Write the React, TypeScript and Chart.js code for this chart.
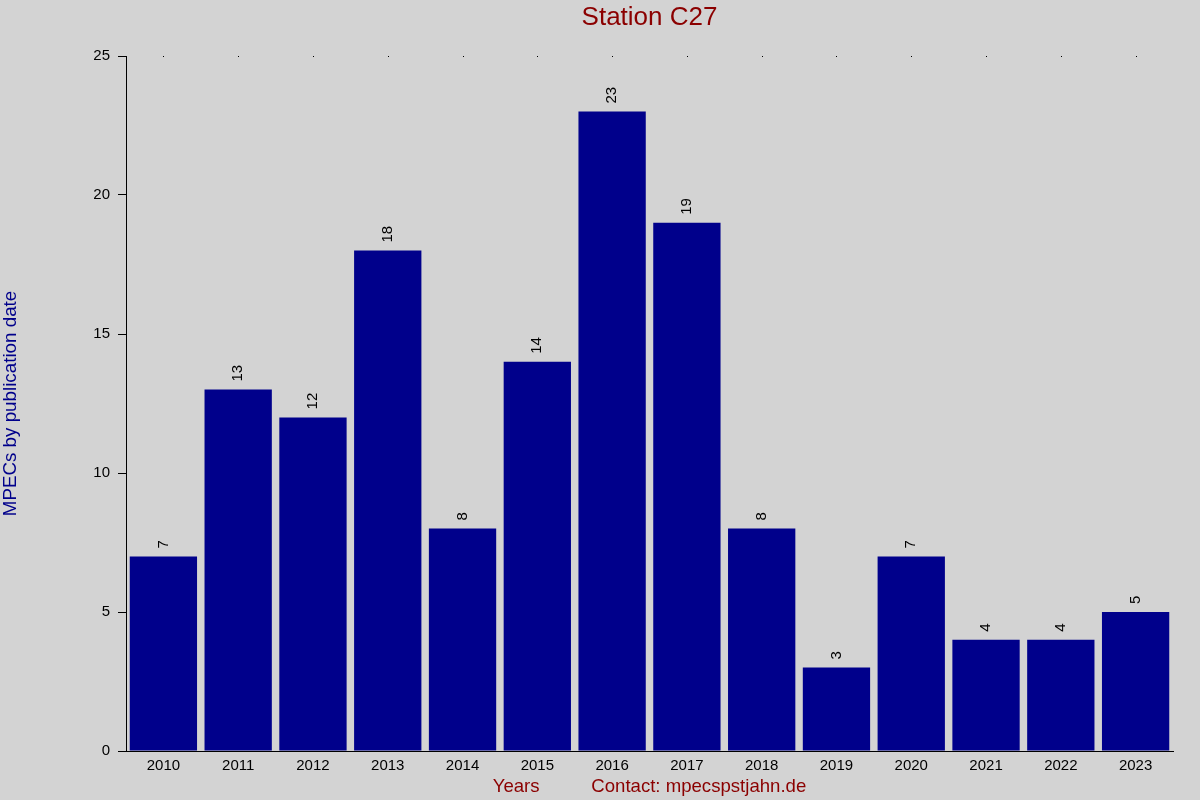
import { useEffect, useRef } from "react"
import { Chart, registerables } from "chart.js"

Chart.register(...registerables)

const years = ["2010", "2011", "2012", "2013", "2014", "2015", "2016", "2017", "2018", "2019", "2020", "2021", "2022", "2023"]
const mpecs = [7, 13, 12, 18, 8, 14, 23, 19, 8, 3, 7, 4, 4, 5]
const yTicks = [0, 5, 10, 15, 20, 25]

const FONT = "'Liberation Sans', Arial, sans-serif"
const BG = "#d3d3d3"
const BAR = "#00008b"
const RED = "#8b0000"

// fond gris, titre, points en haut, valeurs au-dessus des barres
const decorations = {
  id: "decorations",
  beforeDraw(chart: any) {
    const { ctx, width, height } = chart
    ctx.save()
    ctx.fillStyle = BG
    ctx.fillRect(0, 0, width, height)
    ctx.restore()
  },
  afterDraw(chart: any) {
    const { ctx, chartArea } = chart
    const xScale = chart.scales.x
    ctx.save()
    // titre
    ctx.fillStyle = RED
    ctx.font = `26px ${FONT}`
    ctx.textAlign = "center"
    ctx.textBaseline = "middle"
    ctx.fillText("Station C27", (chartArea.left + chartArea.right) / 2, 18)
    // petits points en haut
    ctx.fillStyle = "#000"
    xScale.ticks.forEach((_t: any, i: number) => {
      const x = Math.round(xScale.getPixelForTick(i))
      ctx.fillRect(x, Math.round(chartArea.top), 1, 1)
    })
    // valeurs
    const meta = chart.getDatasetMeta(0)
    ctx.font = `15px ${FONT}`
    ctx.textAlign = "left"
    ctx.textBaseline = "middle"
    meta.data.forEach((bar: any, i: number) => {
      ctx.save()
      ctx.translate(bar.x, bar.y - 8)
      ctx.rotate(-Math.PI / 2)
      ctx.fillText(String(mpecs[i]), 0, 0)
      ctx.restore()
    })
    ctx.restore()
  },
}

export default function App() {
  const chartRef = useRef<HTMLCanvasElement>(null)
  const chartInstance = useRef<Chart | null>(null)

  useEffect(() => {
    if (!chartRef.current) return
    if (chartInstance.current) chartInstance.current.destroy()
    const ctx = chartRef.current.getContext("2d")
    if (!ctx) return

    chartInstance.current = new Chart(ctx, {
      type: "bar",
      data: {
        labels: years,
        datasets: [
          {
            data: mpecs,
            backgroundColor: BAR,
            borderWidth: 0,
            barPercentage: 0.9,
            categoryPercentage: 1.0,
          },
        ],
      },
      options: {
        responsive: false,
        animation: false,
        devicePixelRatio: 1,
        layout: { padding: { top: 56, right: 27, left: 0, bottom: 0 } },
        scales: {
          x: {
            afterFit: (scale: any) => {
              scale.height = 49
            },
            grid: { display: false, drawTicks: false, tickLength: 0 },
            border: { display: true, color: "#000", width: 1 },
            ticks: {
              color: "#000",
              font: { family: FONT, size: 15 },
              padding: 6,
              maxRotation: 0,
              autoSkip: false,
            },
            title: {
              display: true,
              text: "Years          Contact: mpecspstjahn.de",
              color: RED,
              font: { family: FONT, size: 18.6 },
              padding: { top: 0, bottom: 2 },
            },
          },
          y: {
            min: 0,
            max: 25,
            afterFit: (scale: any) => {
              scale.width = 126
            },
            afterBuildTicks: (scale: any) => {
              scale.ticks = yTicks.map((v) => ({ value: v }))
            },
            grid: {
              drawOnChartArea: false,
              drawTicks: true,
              tickLength: 8,
              color: "#000",
            },
            border: { display: true, color: "#000", width: 1 },
            ticks: {
              color: "#000",
              font: { family: FONT, size: 15 },
              padding: 8,
            },
            title: {
              display: true,
              text: "MPECs by publication date",
              color: BAR,
              font: { family: FONT, size: 18.8 },
              padding: { top: 0, bottom: 0 },
            },
          },
        },
        plugins: {
          legend: { display: false },
          title: { display: false },
          tooltip: { enabled: false },
        },
      },
      plugins: [decorations],
    })

    return () => {
      if (chartInstance.current) {
        chartInstance.current.destroy()
        chartInstance.current = null
      }
    }
  }, [])

  return (
    <div style={{ position: "fixed", left: 0, top: 0, width: 1200, height: 800, background: BG }}>
      <canvas ref={chartRef} width={1200} height={800} />
    </div>
  )
}
